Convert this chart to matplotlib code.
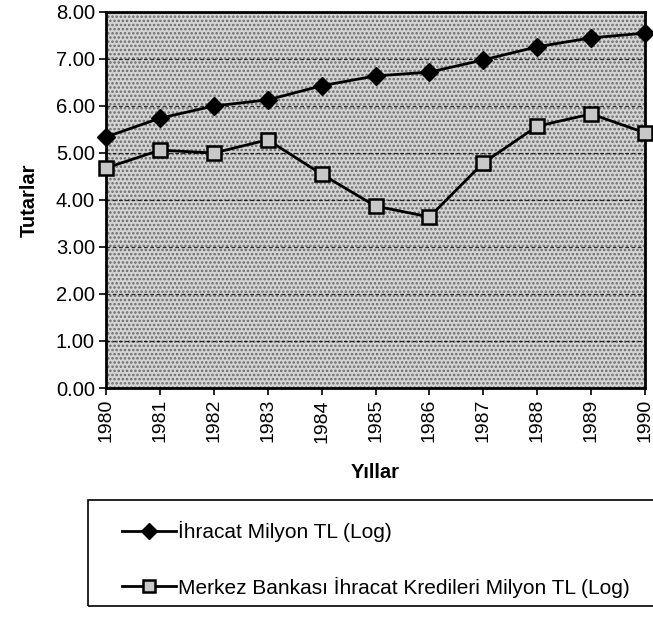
import matplotlib.pyplot as plt
from matplotlib.patches import Rectangle

plt.rcParams['font.family'] = ['Liberation Sans', 'DejaVu Sans']
plt.rcParams['hatch.color'] = '#555555'
plt.rcParams['hatch.linewidth'] = 1.2

# Data
years = ['1980', '1981', '1982', '1983', '1984', '1985',
         '1986', '1987', '1988', '1989', '1990']
ihracat = [5.34, 5.74, 6.00, 6.13, 6.43, 6.64, 6.72, 6.98, 7.26, 7.45, 7.55]
mb_kredi = [4.68, 5.06, 5.00, 5.28, 4.55, 3.87, 3.64, 4.79, 5.57, 5.83, 5.43]
y_ticks = [0, 1, 2, 3, 4, 5, 6, 7, 8]

fig = plt.figure(figsize=(6.53, 6.21), dpi=100)
ax = fig.add_axes([0.1623, 0.3752, 0.8255, 0.6055])

# stippled grey plot area
ax.set_facecolor('#d4d4d4')
ax.patch.set_hatch('....')
ax.patch.set_edgecolor('#6a6a6a')

x = list(range(len(years)))
ax.plot(x, ihracat, color='black', lw=2, marker='D', ms=9,
        mfc='black', mec='black', label='İhracat Milyon TL (Log)',
        zorder=3, clip_on=False)
ax.plot(x, mb_kredi, color='black', lw=2, marker='s', ms=10,
        mfc='#c8c8c8', mec='black', mew=1.8,
        label='Merkez Bankası İhracat Kredileri Milyon TL (Log)',
        zorder=3, clip_on=False)

ax.set_xlim(0, len(years) - 1)
ax.set_ylim(0, 8)
ax.set_xticks(x)
ax.set_xticklabels(years, rotation=90, fontsize=14)
ax.set_yticks(y_ticks)
ax.set_yticklabels([f'{v:.2f}' for v in y_ticks], fontsize=14.5)
ax.tick_params(direction='out', length=5, width=1.2, color='black', pad=3)
ax.grid(axis='y', color='black', ls=(0, (3, 2)), lw=0.9, alpha=0.8)
ax.set_axisbelow(False)
for sp in ax.spines.values():
    sp.set_linewidth(2)

ax.set_xlabel('Yıllar', fontsize=14.5, fontweight='bold', labelpad=15)
ax.set_ylabel('Tutarlar', fontsize=14.5, fontweight='bold', labelpad=12)

# legend box (extends past the right edge like the reference)
fig.patches.append(Rectangle((0.135, 0.024), 0.9, 0.171,
                             transform=fig.transFigure, fill=False,
                             edgecolor='black', lw=1.2))
leg = fig.legend(loc='upper left', bbox_to_anchor=(0.187, 0.161),
                 fontsize=15, frameon=False, borderpad=0, borderaxespad=0,
                 handlelength=2.6, handletextpad=0.1, labelspacing=1.65,
                 markerscale=0.85)

fig.savefig('out.png', dpi=100)
